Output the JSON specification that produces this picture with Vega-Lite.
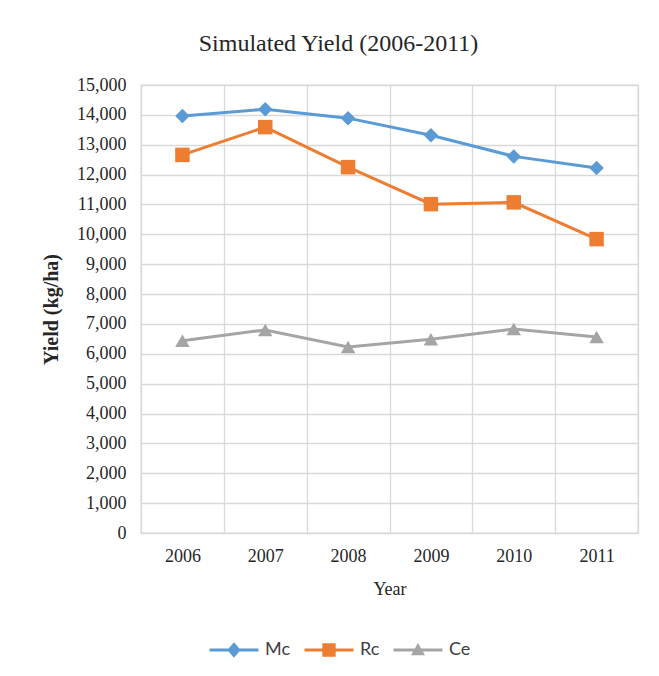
{
  "$schema": "https://vega.github.io/schema/vega-lite/v6.json",
  "width": 497,
  "height": 448,
  "autosize": "none",
  "padding": {"left": 141, "top": 85, "right": 21, "bottom": 143},
  "background": "white",
  "title": {
    "text": "Simulated Yield (2006-2011)",
    "font": "Liberation Serif",
    "fontSize": 24,
    "fontWeight": "normal",
    "color": "#262626",
    "anchor": "middle",
    "dx": -51,
    "offset": 20
  },
  "config": {
    "view": {"stroke": "#D9D9D9", "strokeWidth": 1.3},
    "axis": {
      "gridColor": "#D9D9D9",
      "gridWidth": 1.3,
      "domain": false,
      "ticks": false,
      "labelFont": "Liberation Serif",
      "labelFontSize": 18,
      "labelColor": "#262626",
      "titleFont": "Liberation Serif",
      "titleFontSize": 18,
      "titleFontWeight": "normal",
      "titleColor": "#262626"
    }
  },
  "data": {
    "values": [
      {"year": "2006", "series": "Mc", "yield": 13960},
      {"year": "2007", "series": "Mc", "yield": 14190},
      {"year": "2008", "series": "Mc", "yield": 13890},
      {"year": "2009", "series": "Mc", "yield": 13320},
      {"year": "2010", "series": "Mc", "yield": 12610},
      {"year": "2011", "series": "Mc", "yield": 12220},
      {"year": "2006", "series": "Rc", "yield": 12660},
      {"year": "2007", "series": "Rc", "yield": 13590},
      {"year": "2008", "series": "Rc", "yield": 12250},
      {"year": "2009", "series": "Rc", "yield": 11010},
      {"year": "2010", "series": "Rc", "yield": 11070},
      {"year": "2011", "series": "Rc", "yield": 9840},
      {"year": "2006", "series": "Ce", "yield": 6440},
      {"year": "2007", "series": "Ce", "yield": 6800},
      {"year": "2008", "series": "Ce", "yield": 6230},
      {"year": "2009", "series": "Ce", "yield": 6490},
      {"year": "2010", "series": "Ce", "yield": 6830},
      {"year": "2011", "series": "Ce", "yield": 6560}
    ]
  },
  "encoding": {
    "x": {
      "field": "year",
      "type": "ordinal",
      "scale": {"type": "band", "paddingInner": 0, "paddingOuter": 0},
      "axis": {"grid": true, "tickBand": "extent", "labelAngle": 0, "labelPadding": 14, "labelFontSize": 18, "title": "Year", "titlePadding": 15}
    },
    "y": {
      "field": "yield",
      "type": "quantitative",
      "scale": {"domain": [0, 15000]},
      "axis": {
        "values": [0,1000,2000,3000,4000,5000,6000,7000,8000,9000,10000,11000,12000,13000,14000,15000],
        "format": ",.0f",
        "labelPadding": 15,
        "title": "Yield  (kg/ha)",
        "titleFontWeight": "bold",
        "titleFontSize": 20,
        "titlePadding": 15
      }
    }
  },
  "layer": [
    {
      "mark": {"type": "line", "strokeWidth": 3},
      "encoding": {
        "color": {"field": "series", "type": "nominal", "scale": {"domain": ["Mc", "Rc", "Ce"], "range": ["#5B9BD5", "#ED7D31", "#A5A5A5"]}, "legend": null}
      }
    },
    {
      "mark": {"type": "point", "filled": true, "opacity": 1, "size": 210},
      "encoding": {
        "color": {"field": "series", "type": "nominal", "scale": {"domain": ["Mc", "Rc", "Ce"], "range": ["#5B9BD5", "#ED7D31", "#A5A5A5"]}, "legend": null},
        "shape": {"field": "series", "type": "nominal", "scale": {"domain": ["Mc", "Rc", "Ce"], "range": ["diamond", "square", "triangle-up"]}, "legend": null}
      }
    },
    {
      "mark": {"type": "point", "filled": true, "opacity": 0, "size": 196},
      "encoding": {
        "color": {"field": "series", "type": "nominal", "scale": {"domain": ["Mc", "Rc", "Ce"], "range": ["#5B9BD5", "#ED7D31", "#A5A5A5"]},
          "legend": {"title": null, "orient": "none", "direction": "horizontal", "legendX": 84, "legendY": 556, "symbolSize": 196, "symbolOpacity": 1, "symbolStrokeWidth": 0, "labelFont": "Lato", "labelFontSize": 18, "labelColor": "#404040", "labelOffset": 22, "columnPadding": 13}},
        "shape": {"field": "series", "type": "nominal", "scale": {"domain": ["Mc", "Rc", "Ce"], "range": [
          "M-3.5,-0.2H3.5V0.2H-3.5Z M0,-1.1L0.95,0L0,1.1L-0.95,0Z",
          "M-3.5,-0.2H3.5V0.2H-3.5Z M-0.95,-0.95H0.95V0.95H-0.95Z",
          "M-3.5,-0.2H3.5V0.2H-3.5Z M0,-1L1,0.75H-1Z"
        ]},
          "legend": {"title": null, "orient": "none", "direction": "horizontal", "legendX": 84, "legendY": 556, "symbolSize": 196, "symbolOpacity": 1, "symbolStrokeWidth": 0, "labelFont": "Lato", "labelFontSize": 18, "labelColor": "#404040", "labelOffset": 22, "columnPadding": 13}}
      }
    }
  ],
  "resolve": {"scale": {"color": "independent", "shape": "independent"}}
}
